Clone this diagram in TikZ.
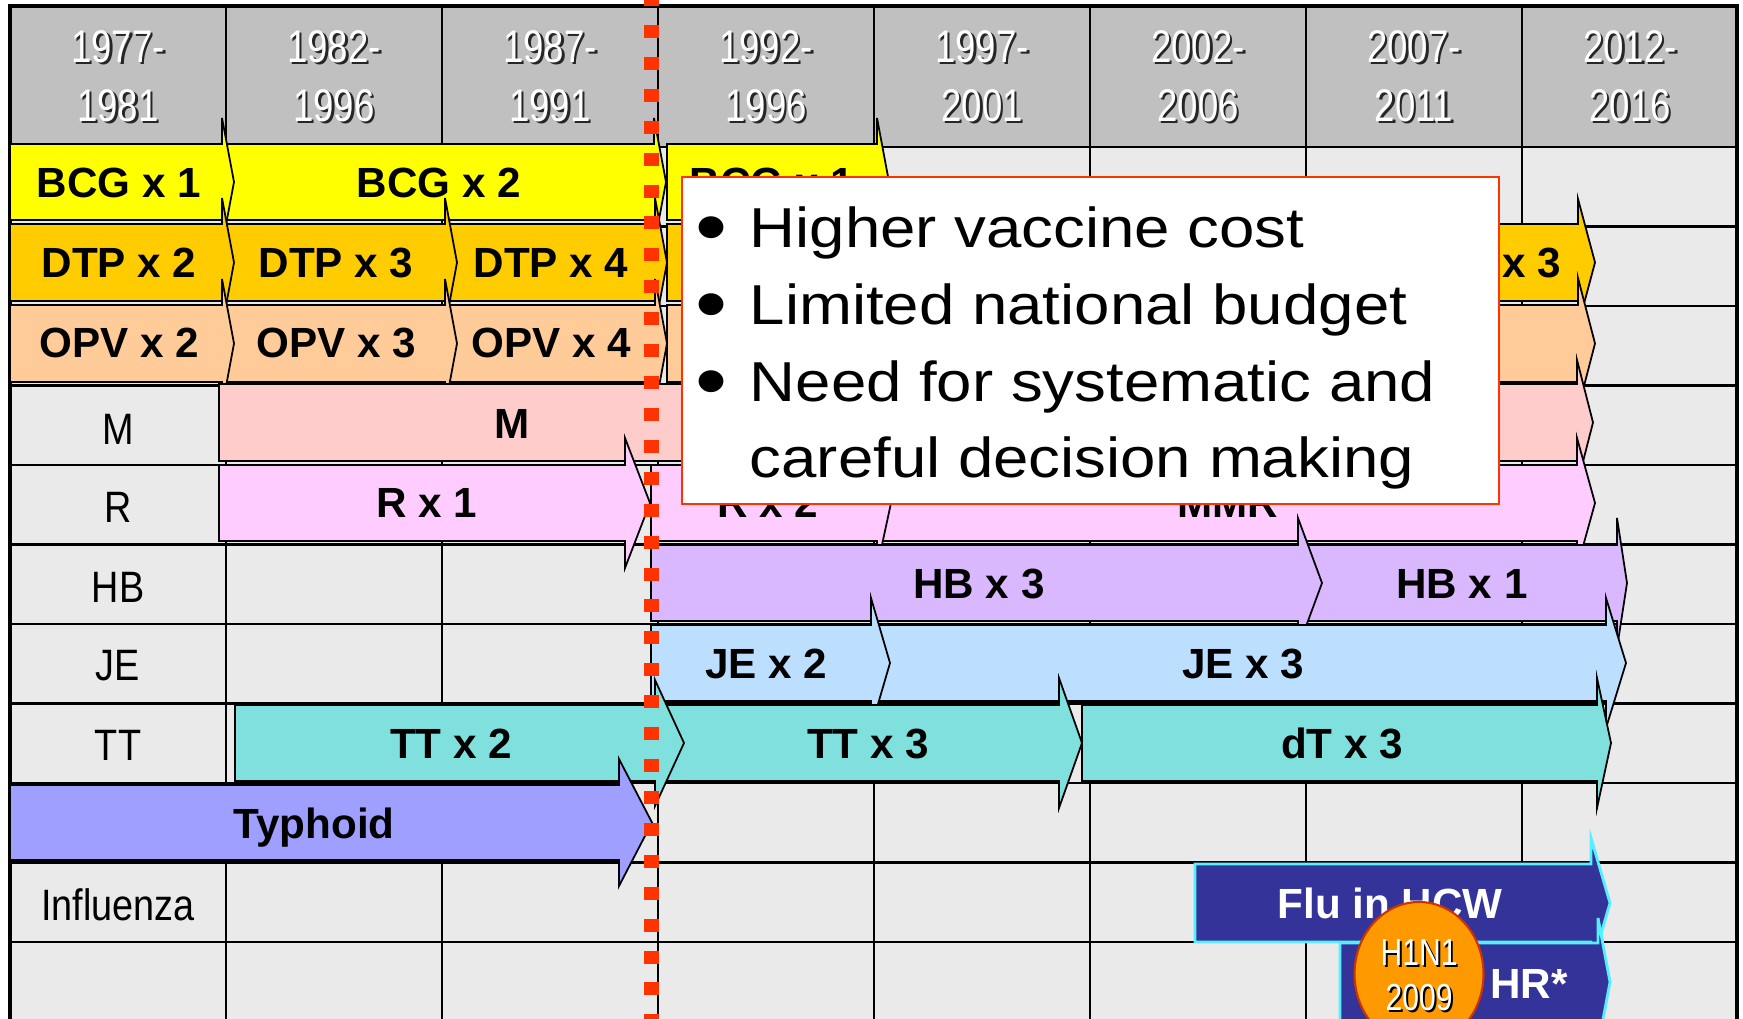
\documentclass[tikz,border=0pt]{standalone}
\usepackage{fontspec}
\setmainfont{Liberation Sans}
\newfontfamily\narrowfont[FakeStretch=0.8]{Liberation Sans}
\newfontfamily\labelfont[FakeStretch=0.86]{Liberation Sans}
\newfontfamily\widefont[FakeStretch=1.13]{Liberation Sans}

\definecolor{headgrey}{HTML}{C0C0C0}
\definecolor{cellgrey}{HTML}{EAEAEA}
\definecolor{bcgcol}{HTML}{FFFF00}
\definecolor{dtpcol}{HTML}{FFCC00}
\definecolor{opvcol}{HTML}{FFCC99}
\definecolor{mcol}{HTML}{FFCCCC}
\definecolor{rcol}{HTML}{FFCCFF}
\definecolor{hbcol}{HTML}{D9B8FF}
\definecolor{jecol}{HTML}{BDDFFF}
\definecolor{ttcol}{HTML}{7FE0DD}
\definecolor{tycol}{HTML}{9F9FFF}
\definecolor{flucol}{HTML}{333399}
\definecolor{flurim}{HTML}{55F0FF}
\definecolor{cutred}{HTML}{FF3300}
\definecolor{h1n1col}{HTML}{FF9900}
\definecolor{h1n1rim}{HTML}{CC3300}

% \vaccine[style]{start}{head base}{tip}{top}{bottom}{head overhang}
\newcommand{\vaccine}[7][]{%
  \filldraw[vacbar,#1] (#2,#5) -- (#3,#5) -- (#3,#5-#7) -- (#4,{(#5+#6)/2})
    -- (#3,#6+#7) -- (#3,#6) -- (#2,#6) -- cycle;}
\newcommand{\pointmark}{\makebox[0.54cm][l]{\fontsize{23}{23}\selectfont\raisebox{-0.07cm}{•}}}

\tikzset{
  vacbar/.style={draw=black,line width=0.5pt},
  flubar/.style={fill=flucol,draw=flurim,line width=0.8pt},
  vaclabel/.style={anchor=base,inner sep=0pt,font=\fontsize{12}{14}\selectfont\bfseries},
  rowname/.style={anchor=base,inner sep=0pt,font=\labelfont\fontsize{12.5}{14}\selectfont},
  yearhead/.style={inner sep=0pt,align=center,text=white,font=\narrowfont\fontsize{13}{16.8}\selectfont},
  yearshadow/.style={yearhead,text=black!85},
  gridline/.style={line width=0.6pt},
  cutline/.style={cutred,line width=0.15cm,dash pattern=on 0.13cm off 0.189cm},
  notebox/.style={fill=white,draw=cutred,line width=0.6pt},
  notetext/.style={anchor=base west,inner sep=0pt,font=\widefont\fontsize{16}{20}\selectfont},
  fluyear/.style={inner sep=0pt,align=center,text=white,font=\narrowfont\fontsize{10.7}{12.8}\selectfont},
  fluyearshadow/.style={fluyear,text=black}
}

\begin{document}
\begin{tikzpicture}[x=0.01cm,y=-0.01cm]
  \useasboundingbox (0,0) rectangle (1743,1019);
  \fill[white] (0,0) rectangle (1743,1019);

  % table
  \fill[headgrey] (10,6) rectangle (1737,147);
  \fill[cellgrey] (10,147) rectangle (1737,1040);
  \foreach \i in {1,...,7}
    \draw[gridline] ({10+216*\i},6) -- ({10+216*\i},1040);
  \foreach \j in {0,...,10}
    \draw[gridline] (10,{147+79.5*\j}) -- (1737,{147+79.5*\j});
  \draw[line width=1.4pt] (10,6) rectangle (1737,1040);

  % periods
  \foreach \a/\b [count=\i] in {1977/1981,1982/1996,1987/1991,1992/1996,1997/2001,2002/2006,2007/2011,2012/2016} {
    \node[yearshadow] (ys\i) at ({118+216*(\i-1)+2.5},78.5) {\a-\\\b};
    \node[yearhead] (yh\i) at ({118+216*(\i-1)},76) {\a-\\\b};
  }

  % vaccine names
  \node[rowname] (nm) at (118,445) {M};
  \node[rowname] (nr) at (118,523) {R};
  \node[rowname] (nhb) at (118,602) {HB};
  \node[rowname] (nje) at (118,680) {JE};
  \node[rowname] (ntt) at (118,760) {TT};
  \node[rowname] (nflu) at (118,920) {Influenza};

  % BCG
  \vaccine[fill=bcgcol]{667}{877}{889}{144}{220}{26}
  \vaccine[fill=bcgcol]{226}{654}{666}{144}{220}{26}
  \vaccine[fill=bcgcol]{10}{222}{234}{144}{220}{26}
  % DTP
  \vaccine[fill=dtpcol]{667}{1578}{1595}{224}{301}{25}
  \vaccine[fill=dtpcol]{450}{655}{667}{224}{301}{26}
  \vaccine[fill=dtpcol]{226}{445}{457}{224}{301}{26}
  \vaccine[fill=dtpcol]{10}{222}{234}{224}{301}{26}
  % OPV
  \vaccine[fill=opvcol]{667}{1578}{1595}{305}{382}{27}
  \vaccine[fill=opvcol]{450}{655}{667}{305}{382}{26}
  \vaccine[fill=opvcol]{226}{445}{457}{305}{382}{26}
  \vaccine[fill=opvcol]{10}{222}{234}{305}{382}{26}
  % M
  \vaccine[fill=mcol]{219}{1577}{1593}{384}{461}{24}
  % R
  \vaccine[fill=rcol]{877}{1577}{1595}{465}{541}{27}
  \vaccine[fill=rcol]{651}{877}{891}{465}{541}{27}
  \vaccine[fill=rcol]{219}{625}{650}{465}{541}{27}
  % HB
  \vaccine[fill=hbcol]{1306}{1617}{1627}{545}{621}{27}
  \vaccine[fill=hbcol]{651}{1298}{1322}{545}{621}{27}
  % JE
  \vaccine[fill=jecol]{879}{1606}{1626}{625}{701}{27}
  \vaccine[fill=jecol]{651}{871}{890}{625}{701}{27}
  % TT
  \vaccine[fill=ttcol]{1082}{1597}{1611}{705}{781}{27}
  \vaccine[fill=ttcol]{658}{1059}{1082}{705}{781}{27}
  \vaccine[fill=ttcol]{235}{655}{684}{705}{781}{25}
  % Typhoid
  \vaccine[fill=tycol]{10}{619}{652}{785}{860}{26}
  % Influenza
  \vaccine[flubar]{1195}{1591}{1610}{864}{942}{26}
  \vaccine[flubar]{1340}{1598}{1610}{943}{1021}{25}

  \node[vaclabel] (bcg1) at (119,198) {BCG x 1};
  \node[vaclabel] (bcg2) at (439,198) {BCG x 2};
  \node[vaclabel] (bcg3) at (772,198) {BCG x 1};
  \node[vaclabel] (dtp2) at (119,278) {DTP x 2};
  \node[vaclabel] (dtp3) at (336,278) {DTP x 3};
  \node[vaclabel] (dtp4) at (551,278) {DTP x 4};
  \node[vaclabel,anchor=base east] (dtpx) at (1562,278) {x 3};
  \node[vaclabel] (opv2) at (119,358) {OPV x 2};
  \node[vaclabel] (opv3) at (336,358) {OPV x 3};
  \node[vaclabel] (opv4) at (551,358) {OPV x 4};
  \node[vaclabel] (mone) at (512,439) {M};
  \node[vaclabel] (rone) at (427,518) {R x 1};
  \node[vaclabel] (rtwo) at (768,518) {R x 2};
  \node[vaclabel] (mmr) at (1228,518) {MMR};
  \node[vaclabel] (hb3) at (979,598) {HB x 3};
  \node[vaclabel] (hb1) at (1462,598) {HB x 1};
  \node[vaclabel] (je2) at (766,678) {JE x 2};
  \node[vaclabel] (je3) at (1243,678) {JE x 3};
  \node[vaclabel] (tt2) at (451,758) {TT x 2};
  \node[vaclabel] (tt3) at (868,758) {TT x 3};
  \node[vaclabel] (dt3) at (1342,758) {dT x 3};
  \node[vaclabel] (typh) at (314,838) {Typhoid};
  \node[vaclabel,text=white] (fluhcw) at (1390,918) {Flu in HCW};
  \node[vaclabel,text=white] (hr) at (1529,998) {HR*};

  % cut-off line
  \draw[cutline] (651,-7) -- (651,1030);

  % reasons
  \draw[notebox] (682,177) rectangle (1499,504);
  \foreach \t [count=\i] in {Higher vaccine cost,Limited national budget,Need for systematic and}
    \node[notetext] (nt\i) at (695,{248+76.7*(\i-1)}) {\pointmark\t};
  \node[notetext] (nt4) at (749,478) {careful decision making};

  % pandemic
  \filldraw[fill=h1n1col,draw=h1n1rim,line width=0.6pt] (1419,974) ellipse [x radius=64.5,y radius=72];
  \node[fluyearshadow] (h1s) at (1421,977) {H1N1\\2009};
  \node[fluyear] (h1) at (1419,975) {H1N1\\2009};
\end{tikzpicture}
\end{document}
